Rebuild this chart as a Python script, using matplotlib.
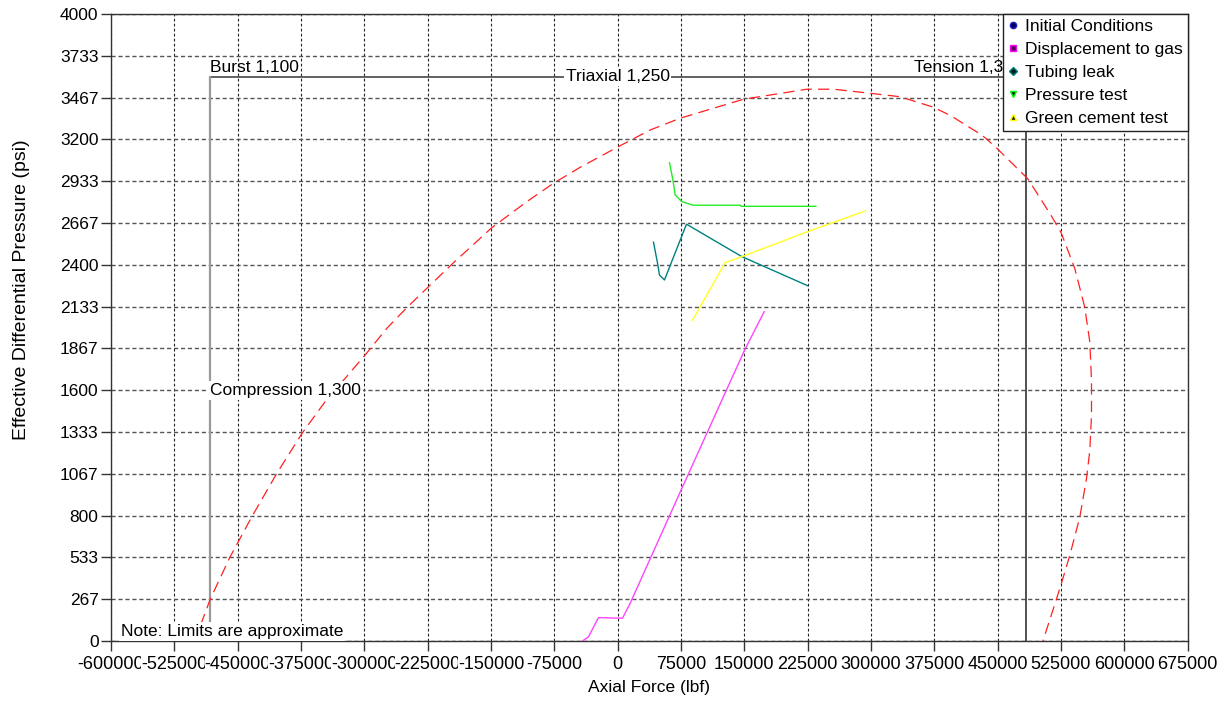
import matplotlib
matplotlib.use("Agg")
import matplotlib.pyplot as plt
import matplotlib.transforms as mtransforms

plt.rcParams["font.family"] = ["Liberation Sans", "DejaVu Sans"]
FS = 12.5

# Axial force / effective differential pressure, by load case
initial_x, initial_y = [], []
displacement_x = [-41690, -34580, -22740, -6870, 5680, 14800, 76030, 149800, 173500]
displacement_y = [0, 27, 149, 147, 145, 241, 974, 1850, 2101]
tubing_leak_x = [42400, 47600, 49500, 55400, 81480, 113450, 147090, 224780]
tubing_leak_y = [2544, 2399, 2335, 2303, 2659, 2558, 2452, 2267]
pressure_test_x = [61350, 65370, 68100, 76030, 89060, 145080, 146260, 234730]
pressure_test_y = [3051, 2941, 2845, 2803, 2780, 2780, 2773, 2773]
cement_test_x = [88570, 127300, 147090, 224780, 293100]
cement_test_y = [2046, 2414, 2452, 2611, 2743]

# Triaxial (von Mises) envelope
triaxial_x = [-501000, -490540, -482600, -458920, -433220, -403610, -373290, -344390,
              -322720, -299040, -273340, -247760, -224070, -194460, -148980, -107530,
              -76030, -44410, 950, 38490, 74020, 148980, 224070, 255570, 299040, 334560,
              374000, 394500, 429310, 436180, 450000, 485800, 513500, 525360, 541230,
              553070, 559110, 561120, 561120, 559110, 555200, 547270, 535300, 525360,
              517420, 503560]
triaxial_y = [0, 151, 266, 538, 793, 1070, 1329, 1542, 1676, 1825, 1995, 2137, 2260, 2413,
              2637, 2803, 2920, 3022, 3154, 3260, 3335, 3456, 3520, 3520, 3494, 3472, 3405,
              3351, 3234, 3206, 3138, 2948, 2713, 2602, 2378, 2131, 1908, 1662, 1439, 1215,
              1035, 790, 544, 365, 230, 0]

# Design limit box
burst_limit = 3600
compression_limit = -483000
tension_limit = 483000

x_ticks = list(range(-600000, 675001, 75000))
y_ticks = [i * 4000 / 15 for i in range(16)]
y_tick_labels = ["0", "267", "533", "800", "1067", "1333", "1600", "1867", "2133",
                 "2400", "2667", "2933", "3200", "3467", "3733", "4000"]

fig = plt.figure(figsize=(12.23, 7.02), dpi=100)
ax = fig.add_axes([0.0908, 0.0869, 0.8803, 0.8932])
ax.set_xlim(-600000, 675000)
ax.set_ylim(0, 4000)

# x labels are wider than the tick spacing; white boxes let each one
# overwrite the tail of its left neighbour
ax.set_xticks(x_ticks)
ax.set_xticklabels([str(v) for v in x_ticks], fontsize=13)
for lbl in ax.get_xticklabels():
    lbl.set_bbox(dict(facecolor="white", edgecolor="none", pad=0))
ax.set_yticks(y_ticks)
ax.set_yticklabels(y_tick_labels, fontsize=FS)
ax.tick_params(direction="out", length=7, width=1, color="#333333")
ax.tick_params(axis="y", pad=2)
ax.tick_params(axis="x", pad=4)
ax.xaxis.grid(True, color="#222222", linestyle=(0, (2.5, 2)), linewidth=0.8)
ax.yaxis.grid(True, color="#555555", linestyle=(0, (3, 2)), linewidth=1.0)
ax.set_axisbelow(True)
for sp in ax.spines.values():
    sp.set_color("#333333")
    sp.set_linewidth(1)

# limit lines
ax.plot([compression_limit, tension_limit], [burst_limit, burst_limit],
        color="#555555", lw=1.3, zorder=3)
ax.plot([compression_limit, compression_limit], [burst_limit, 0],
        color="#999999", lw=1.6, zorder=3)
ax.plot([tension_limit, tension_limit], [burst_limit, 0],
        color="#222222", lw=1.1, zorder=3)

ax.plot(triaxial_x, triaxial_y, color="#ff2020", lw=0.9, linestyle=(0, (9, 5)), zorder=4)
ax.plot(displacement_x, displacement_y, color="#ff44ff", lw=1.0, zorder=5)
ax.plot(tubing_leak_x, tubing_leak_y, color="#008080", lw=1.0, zorder=5)
ax.plot(pressure_test_x, pressure_test_y, color="#22ee22", lw=1.0, zorder=5)
ax.plot(cement_test_x, cement_test_y, color="#ffff22", lw=1.0, zorder=5)

above = mtransforms.offset_copy(ax.transData, fig=fig, x=0, y=1.5, units="points")
ax.text(compression_limit, burst_limit, "Burst 1,100", fontsize=FS,
        ha="left", va="bottom", transform=above, zorder=6)
ax.text(tension_limit - 3000, burst_limit, "Tension 1,300", fontsize=FS,
        ha="right", va="bottom", transform=above, zorder=6)
ax.text(0, burst_limit, "Triaxial 1,250", fontsize=FS, ha="center", va="center",
        bbox=dict(facecolor="white", edgecolor="none", pad=1), zorder=6)
ax.text(compression_limit, 1600, "Compression 1,300", fontsize=FS, ha="left", va="center",
        bbox=dict(facecolor="white", edgecolor="none", pad=1.5), zorder=6)
ax.text(0.009, 0.015, "Note: Limits are approximate", fontsize=FS, ha="left", va="center",
        transform=ax.transAxes,
        bbox=dict(facecolor="white", edgecolor="none", pad=1.5), zorder=6)

handles = [
    ax.plot(initial_x, initial_y, ls="none", marker="o", ms=4.5, mfc="#000060",
            mec="#2020c0", label="Initial Conditions")[0],
    ax.plot([], [], ls="none", marker="s", ms=4.5, mfc="#600060", mec="#ff00ff",
            label="Displacement to gas")[0],
    ax.plot([], [], ls="none", marker="D", ms=4, mfc="#002020", mec="#008080",
            label="Tubing leak")[0],
    ax.plot([], [], ls="none", marker="v", ms=5, mfc="#002000", mec="#00ff00",
            label="Pressure test")[0],
    ax.plot([], [], ls="none", marker="^", ms=5, mfc="#202000", mec="#ffff00",
            label="Green cement test")[0],
]
leg = ax.legend(handles=handles, loc="upper right", bbox_to_anchor=(1, 1),
                borderaxespad=0, fancybox=False, framealpha=1, edgecolor="#222222",
                fontsize=FS, handlelength=0.6, handletextpad=0.35, borderpad=0.3,
                labelspacing=0.45)
leg.get_frame().set_linewidth(1)
leg.set_zorder(10)

ax.set_xlabel("Axial Force (lbf)", fontsize=FS, labelpad=5)
ax.set_ylabel("Effective Differential Pressure (psi)", fontsize=14)
ax.yaxis.set_label_coords(-0.075, 0.56)

fig.savefig("out.png", dpi=100)
